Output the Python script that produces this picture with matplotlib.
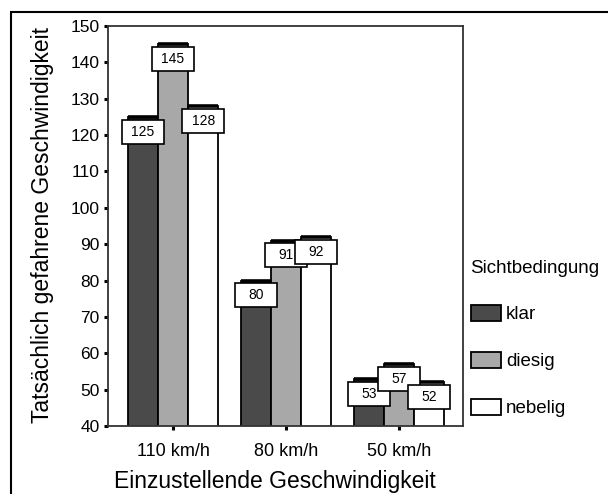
import matplotlib
matplotlib.use('Agg')
import matplotlib.pyplot as plt
from matplotlib.patches import Rectangle, Patch
import numpy as np

plt.rcParams['font.family'] = ['Liberation Sans', 'DejaVu Sans']

# data
speeds = ['110 km/h', '80 km/h', '50 km/h']
conditions = ['klar', 'diesig', 'nebelig']
klar = [125, 80, 53]
diesig = [145, 91, 57]
nebelig = [128, 92, 52]
colors = ['#4a4a4a', '#a8a8a8', '#ffffff']

fig = plt.figure(figsize=(6.08, 4.94), dpi=100)
ax = fig.add_axes([108/608, 1 - 426/494, 355/608, 400/494])

x = np.arange(len(speeds))
w = 0.268
series = [klar, diesig, nebelig]
for i, vals in enumerate(series):
    xs = x + (i - 1) * w
    ax.bar(xs, vals, width=w, color=colors[i], edgecolor='black', linewidth=1.3, zorder=2)
    # heavier top edge like the original
    ax.hlines(vals, xs - w/2, xs + w/2, colors='black', linewidth=2.6, zorder=3)
    # boxed value labels at the top of each bar
    for xi, v in zip(xs, vals):
        bw, bh = 0.37, 6.6
        top = v - 0.8
        ax.add_patch(Rectangle((xi - bw/2, top - bh), bw, bh, facecolor='white',
                               edgecolor='black', linewidth=1.2, zorder=4))
        ax.text(xi, top - bh/2, str(v), ha='center', va='center', fontsize=10, zorder=5)

ax.set_ylim(40, 150)
ax.set_xlim(-0.575, 2.566)
ax.set_yticks(range(40, 151, 10))
ax.set_xticks(x)
ax.set_xticklabels(speeds, fontsize=13)
ax.tick_params(axis='y', labelsize=12.5, length=3, width=2.2, direction='out', pad=3)
ax.tick_params(axis='x', length=3, width=2.2, direction='out', pad=9)
for s in ax.spines.values():
    s.set_linewidth(1.3)
    s.set_color('#333333')

fig.text(275/608, 1 - 488/494, 'Einzustellende Geschwindigkeit',
         ha='center', va='baseline', fontsize=16.5)
fig.text(43/608, 1 - 225/494, 'Tatsächlich gefahrene Geschwindigkeit',
         ha='center', va='center', rotation=90, fontsize=16.5)

handles = [Patch(facecolor=c, edgecolor='black', linewidth=1.3) for c in colors]
leg = fig.legend(handles, conditions, title='Sichtbedingung', loc='upper left',
                 bbox_to_anchor=(463/608, 1 - 252/494), frameon=False, fontsize=13.5,
                 title_fontsize=13.5, handlelength=1.6, handleheight=1.0,
                 labelspacing=1.5, handletextpad=0.3, borderaxespad=0)
leg._legend_box.align = 'left'

# outer frame around the figure (open to right and bottom)
fig.patches.append(Rectangle((11/608, -0.2), 1.2, 1 - 12/494 + 0.2, transform=fig.transFigure,
                             fill=False, edgecolor='black', linewidth=1.5, clip_on=False))

fig.savefig('out.png', dpi=100)
